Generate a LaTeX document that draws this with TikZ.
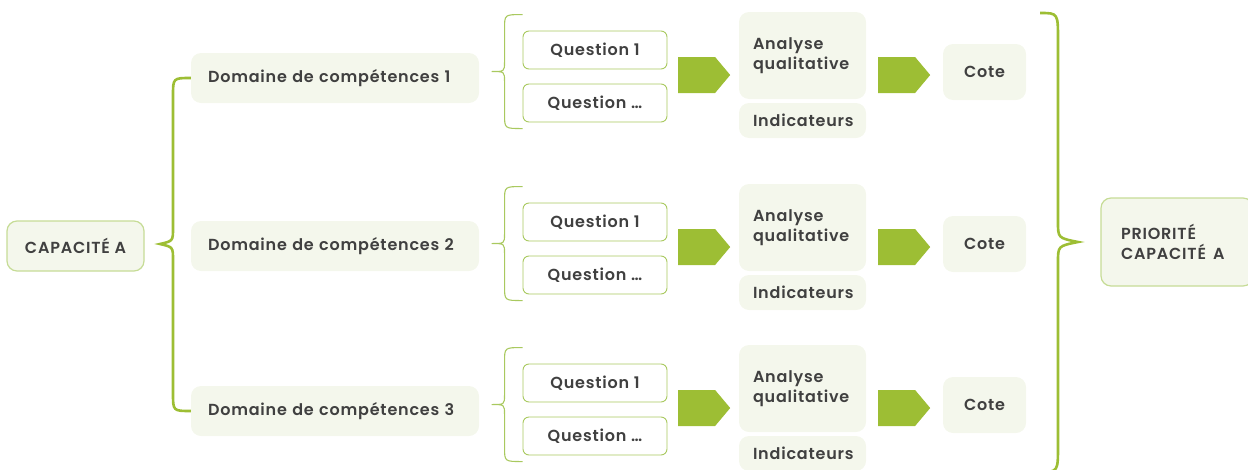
\documentclass[tikz,border=0pt]{standalone}
\usepackage{fontspec}
\setmainfont{Poppins}[UprightFont=* SemiBold, LetterSpace=5]
\usetikzlibrary{shapes.symbols}
\definecolor{paleleaf}{HTML}{F4F7EC}
\definecolor{softline}{HTML}{C6DC96}
\definecolor{leaf}{HTML}{9DBE34}
\definecolor{thinleaf}{HTML}{A9C95F}
\definecolor{ink}{HTML}{404040}
\tikzset{
  every node/.style={font=\fontsize{16}{20}\selectfont, text=ink},
  capbox/.style={draw=softline, line width=1.2pt, fill=paleleaf, rounded corners=10pt},
  domainbox/.style={fill=paleleaf, rounded corners=10pt, minimum height=50pt,
    text width=254pt, inner xsep=17pt, align=left},
  qbox/.style={draw=thinleaf, line width=0.9pt, fill=white, rounded corners=6pt,
    minimum width=144pt, minimum height=38pt, inner sep=0pt},
  anbox/.style={fill=paleleaf, rounded corners=10pt, minimum height=87pt,
    text width=99pt, inner xsep=14pt, align=left},
  indbox/.style={fill=paleleaf, rounded corners=10pt, minimum height=35pt,
    text width=99pt, inner xsep=14pt, align=left},
  cotebox/.style={fill=paleleaf, rounded corners=10pt, minimum width=83pt, minimum height=56pt},
  stepshape/.style={shape=signal, signal to=east, signal pointer angle=100, fill=leaf,
    minimum width=52pt, minimum height=36pt, inner sep=0pt, anchor=west},
  bigbrace/.style={draw=leaf, line width=2.6pt},
  smallbrace/.style={draw=thinleaf, line width=1.1pt},
}
\begin{document}
\begin{tikzpicture}[x=1pt,y=-1pt]
\useasboundingbox (0,0) rectangle (1248,469);

% root capacity
\node[capbox, minimum width=137pt, minimum height=50pt] (capa) at (75.5,246) {CAPACITÉ A};

% one row per competence domain
\foreach \i/\dy/\dd in {1/0/78, 2/172/246, 3/333/411} {
  \node[domainbox] (dom\i) at (335,\dd) {Domaine de compétences \i};
  \node[qbox] (qa\i) at (595,50+\dy) {Question 1};
  \node[qbox] (qb\i) at (595,103+\dy) {Question \dots};
  \node[stepshape] (sa\i) at (678,75+\dy) {};
  \node[anbox] (an\i) at (802.5,55.5+\dy) {Analyse\\qualitative};
  \node[indbox] (ind\i) at (802.5,120.5+\dy) {Indicateurs};
  \node[stepshape] (sb\i) at (878,75+\dy) {};
  \node[cotebox] (cote\i) at (984.5,72+\dy) {Cote};
  % brace grouping the questions
  \draw[smallbrace] (qa\i.north west) ++(0,-16) coordinate (bt\i)
    .. controls ++(-18,0) .. ++(-18,14) -- ++(0,33)
    .. controls ++(0,10) .. ++(-13,10)
    .. controls ++(13,0) .. ++(13,10) -- ++(0,33)
    .. controls ++(0,14) .. ++(18,14);
}

% brace from the capacity to its domains
\draw[bigbrace] (dom1.west) .. controls (173,78) .. (173,96) -- (173,228)
  .. controls (173,241) .. (160,244)
  .. controls (173,247) .. (173,260) -- (173,393)
  .. controls (173,411) .. (dom3.west);

% final priority
\node[capbox, minimum width=150pt, minimum height=88pt, text width=112pt, inner xsep=20pt, align=left]
  (prio) at (1177,242) {PRIORITÉ\\CAPACITÉ\hspace{0.45em}A};

% brace gathering every score
\coordinate (rt) at (1040,13);
\coordinate (rb) at (1040,472);
\draw[bigbrace] (rt) .. controls (1058,13) .. (1058,40) -- (1058,222)
  .. controls (1058,238) .. (1078,242)
  .. controls (1058,246) .. (1058,262) -- (1058,445)
  .. controls (1058,472) .. (rb);
\end{tikzpicture}
\end{document}
